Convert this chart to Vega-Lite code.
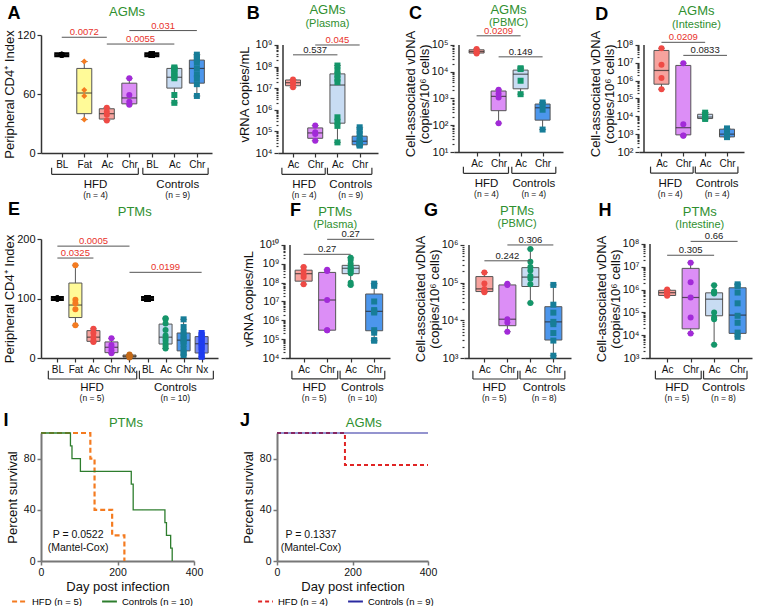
{
"$schema": "https://vega.github.io/schema/vega-lite/v6.json",
"background": "white",
"padding": {"left": 3, "top": 3, "right": 3, "bottom": 0},
"config": {"font": "Liberation Sans", "view": {"stroke": null},
 "axis": {"grid": false, "domainColor": "#333", "domainWidth": 1.5, "tickColor": "#333", "tickWidth": 1.2, "tickSize": 4, "labelFontSize": 10, "labelColor": "#111", "titleFontSize": 13, "titleFontWeight": "normal", "titleColor": "#111", "labelPadding": 2, "titlePadding": 4, "labelOverlap": false},
 "axisX": {"labelOverlap": false, "labelFlush": false},
 "axisY": {"labelFontSize": 11, "labelOverlap": false}},
"datasets": {
"pts": [
{"p":"A","x":0,"g":"BL","v":100},{"p":"A","x":0,"g":"BL","v":100},{"p":"A","x":0,"g":"BL","v":100},{"p":"A","x":0,"g":"BL","v":100},
{"p":"A","x":1,"g":"Fat","v":93},{"p":"A","x":1,"g":"Fat","v":64},{"p":"A","x":1,"g":"Fat","v":58},{"p":"A","x":1,"g":"Fat","v":34},
{"p":"A","x":2,"g":"HAc","v":46},{"p":"A","x":2,"g":"HAc","v":42},{"p":"A","x":2,"g":"HAc","v":39},{"p":"A","x":2,"g":"HAc","v":33},
{"p":"A","x":3,"g":"HChr","v":76},{"p":"A","x":3,"g":"HChr","v":59},{"p":"A","x":3,"g":"HChr","v":52},{"p":"A","x":3,"g":"HChr","v":49},
{"p":"A","x":4,"g":"CBL","v":100},{"p":"A","x":4,"g":"CBL","v":100},{"p":"A","x":4,"g":"CBL","v":100},{"p":"A","x":4,"g":"CBL","v":100},{"p":"A","x":4,"g":"CBL","v":100},{"p":"A","x":4,"g":"CBL","v":100},{"p":"A","x":4,"g":"CBL","v":100},{"p":"A","x":4,"g":"CBL","v":100},{"p":"A","x":4,"g":"CBL","v":100},
{"p":"A","x":5,"g":"CAc","v":87},{"p":"A","x":5,"g":"CAc","v":86},{"p":"A","x":5,"g":"CAc","v":85},{"p":"A","x":5,"g":"CAc","v":82},{"p":"A","x":5,"g":"CAc","v":80},{"p":"A","x":5,"g":"CAc","v":78},{"p":"A","x":5,"g":"CAc","v":76},{"p":"A","x":5,"g":"CAc","v":59},{"p":"A","x":5,"g":"CAc","v":51},
{"p":"A","x":6,"g":"CChr","v":100},{"p":"A","x":6,"g":"CChr","v":97},{"p":"A","x":6,"g":"CChr","v":95},{"p":"A","x":6,"g":"CChr","v":92},{"p":"A","x":6,"g":"CChr","v":86},{"p":"A","x":6,"g":"CChr","v":80},{"p":"A","x":6,"g":"CChr","v":76},{"p":"A","x":6,"g":"CChr","v":70},{"p":"A","x":6,"g":"CChr","v":58},
{"p":"B","x":0,"g":"HAc","v":2.5e7},{"p":"B","x":0,"g":"HAc","v":2.0e7},{"p":"B","x":0,"g":"HAc","v":1.6e7},{"p":"B","x":0,"g":"HAc","v":1.1e7},
{"p":"B","x":1,"g":"HChr","v":1.86e5},{"p":"B","x":1,"g":"HChr","v":9.1e4},{"p":"B","x":1,"g":"HChr","v":7.6e4},{"p":"B","x":1,"g":"HChr","v":3.7e4},
{"p":"B","x":2,"g":"CAc","v":1.12e8},{"p":"B","x":2,"g":"CAc","v":6.6e7},{"p":"B","x":2,"g":"CAc","v":4.2e7},{"p":"B","x":2,"g":"CAc","v":2.8e7},{"p":"B","x":2,"g":"CAc","v":1.9e7},{"p":"B","x":2,"g":"CAc","v":4.5e5},{"p":"B","x":2,"g":"CAc","v":2.8e5},{"p":"B","x":2,"g":"CAc","v":1.8e5},{"p":"B","x":2,"g":"CAc","v":3.1e4},
{"p":"B","x":3,"g":"CChr","v":1.55e5},{"p":"B","x":3,"g":"CChr","v":1.07e5},{"p":"B","x":3,"g":"CChr","v":7.6e4},{"p":"B","x":3,"g":"CChr","v":5e4},{"p":"B","x":3,"g":"CChr","v":3.5e4},{"p":"B","x":3,"g":"CChr","v":2.8e4},{"p":"B","x":3,"g":"CChr","v":2.6e4},{"p":"B","x":3,"g":"CChr","v":2.4e4},{"p":"B","x":3,"g":"CChr","v":2.2e4},
{"p":"C","x":0,"g":"HAc","v":7.1e4},{"p":"C","x":0,"g":"HAc","v":6e4},{"p":"C","x":0,"g":"HAc","v":5.2e4},{"p":"C","x":0,"g":"HAc","v":4.8e4},
{"p":"C","x":1,"g":"HChr","v":2100},{"p":"C","x":1,"g":"HChr","v":1500},{"p":"C","x":1,"g":"HChr","v":1100},{"p":"C","x":1,"g":"HChr","v":120},
{"p":"C","x":2,"g":"CAc","v":1.35e4},{"p":"C","x":2,"g":"CAc","v":1.26e4},{"p":"C","x":2,"g":"CAc","v":4600},{"p":"C","x":2,"g":"CAc","v":1450},
{"p":"C","x":3,"g":"CChr","v":710},{"p":"C","x":3,"g":"CChr","v":590},{"p":"C","x":3,"g":"CChr","v":380},{"p":"C","x":3,"g":"CChr","v":69},
{"p":"D","x":0,"g":"HAc","v":6.5e7},{"p":"D","x":0,"g":"HAc","v":7.8e6},{"p":"D","x":0,"g":"HAc","v":1.4e6},{"p":"D","x":0,"g":"HAc","v":3.3e5},
{"p":"D","x":1,"g":"HChr","v":9.5e6},{"p":"D","x":1,"g":"HChr","v":3600},{"p":"D","x":1,"g":"HChr","v":850},{"p":"D","x":1,"g":"HChr","v":810},
{"p":"D","x":2,"g":"CAc","v":1.6e4},{"p":"D","x":2,"g":"CAc","v":1.17e4},{"p":"D","x":2,"g":"CAc","v":8500},{"p":"D","x":2,"g":"CAc","v":7100},
{"p":"D","x":3,"g":"CChr","v":2100},{"p":"D","x":3,"g":"CChr","v":1300},{"p":"D","x":3,"g":"CChr","v":910},{"p":"D","x":3,"g":"CChr","v":680},
{"p":"E","x":0,"g":"BL","v":100},{"p":"E","x":0,"g":"BL","v":100},{"p":"E","x":0,"g":"BL","v":100},{"p":"E","x":0,"g":"BL","v":100},{"p":"E","x":0,"g":"BL","v":100},
{"p":"E","x":1,"g":"Fat","v":156},{"p":"E","x":1,"g":"Fat","v":98},{"p":"E","x":1,"g":"Fat","v":92},{"p":"E","x":1,"g":"Fat","v":82},{"p":"E","x":1,"g":"Fat","v":55},
{"p":"E","x":2,"g":"HAc","v":49},{"p":"E","x":2,"g":"HAc","v":42},{"p":"E","x":2,"g":"HAc","v":35},{"p":"E","x":2,"g":"HAc","v":29},{"p":"E","x":2,"g":"HAc","v":27},
{"p":"E","x":3,"g":"HChr","v":33},{"p":"E","x":3,"g":"HChr","v":22},{"p":"E","x":3,"g":"HChr","v":18},{"p":"E","x":3,"g":"HChr","v":13},{"p":"E","x":3,"g":"HChr","v":8},
{"p":"E","x":4,"g":"HNx","v":6},{"p":"E","x":4,"g":"HNx","v":4},{"p":"E","x":4,"g":"HNx","v":3},{"p":"E","x":4,"g":"HNx","v":2},{"p":"E","x":4,"g":"HNx","v":1},
{"p":"E","x":5,"g":"CBL","v":100},{"p":"E","x":5,"g":"CBL","v":100},{"p":"E","x":5,"g":"CBL","v":100},{"p":"E","x":5,"g":"CBL","v":100},{"p":"E","x":5,"g":"CBL","v":100},{"p":"E","x":5,"g":"CBL","v":100},{"p":"E","x":5,"g":"CBL","v":100},{"p":"E","x":5,"g":"CBL","v":100},{"p":"E","x":5,"g":"CBL","v":100},{"p":"E","x":5,"g":"CBL","v":100},
{"p":"E","x":6,"g":"CAc","v":67},{"p":"E","x":6,"g":"CAc","v":65},{"p":"E","x":6,"g":"CAc","v":58},{"p":"E","x":6,"g":"CAc","v":47},{"p":"E","x":6,"g":"CAc","v":38},{"p":"E","x":6,"g":"CAc","v":33},{"p":"E","x":6,"g":"CAc","v":29},{"p":"E","x":6,"g":"CAc","v":24},{"p":"E","x":6,"g":"CAc","v":20},{"p":"E","x":6,"g":"CAc","v":16},
{"p":"E","x":7,"g":"CChr","v":65},{"p":"E","x":7,"g":"CChr","v":52},{"p":"E","x":7,"g":"CChr","v":43},{"p":"E","x":7,"g":"CChr","v":38},{"p":"E","x":7,"g":"CChr","v":32},{"p":"E","x":7,"g":"CChr","v":28},{"p":"E","x":7,"g":"CChr","v":24},{"p":"E","x":7,"g":"CChr","v":15},{"p":"E","x":7,"g":"CChr","v":9},{"p":"E","x":7,"g":"CChr","v":5},
{"p":"E","x":8,"g":"CNx","v":42},{"p":"E","x":8,"g":"CNx","v":38},{"p":"E","x":8,"g":"CNx","v":35},{"p":"E","x":8,"g":"CNx","v":31},{"p":"E","x":8,"g":"CNx","v":26},{"p":"E","x":8,"g":"CNx","v":22},{"p":"E","x":8,"g":"CNx","v":18},{"p":"E","x":8,"g":"CNx","v":12},{"p":"E","x":8,"g":"CNx","v":5},{"p":"E","x":8,"g":"CNx","v":2},
{"p":"F","x":0,"g":"HAc","v":6.8e8},{"p":"F","x":0,"g":"HAc","v":4.5e8},{"p":"F","x":0,"g":"HAc","v":2.8e8},{"p":"F","x":0,"g":"HAc","v":2e8},{"p":"F","x":0,"g":"HAc","v":8.3e7},
{"p":"F","x":1,"g":"HChr","v":4.8e8},{"p":"F","x":1,"g":"HChr","v":4.2e8},{"p":"F","x":1,"g":"HChr","v":1.2e7},{"p":"F","x":1,"g":"HChr","v":3e5},{"p":"F","x":1,"g":"HChr","v":3e5},
{"p":"F","x":2,"g":"CAc","v":2.1e9},{"p":"F","x":2,"g":"CAc","v":1.6e9},{"p":"F","x":2,"g":"CAc","v":1e9},{"p":"F","x":2,"g":"CAc","v":7.1e8},{"p":"F","x":2,"g":"CAc","v":6e8},{"p":"F","x":2,"g":"CAc","v":5e8},{"p":"F","x":2,"g":"CAc","v":4e8},{"p":"F","x":2,"g":"CAc","v":3.2e8},{"p":"F","x":2,"g":"CAc","v":1e8},{"p":"F","x":2,"g":"CAc","v":7.4e7},
{"p":"F","x":3,"g":"CChr","v":8.9e7},{"p":"F","x":3,"g":"CChr","v":6.8e7},{"p":"F","x":3,"g":"CChr","v":1e7},{"p":"F","x":3,"g":"CChr","v":3.5e6},{"p":"F","x":3,"g":"CChr","v":3e6},{"p":"F","x":3,"g":"CChr","v":2.6e6},{"p":"F","x":3,"g":"CChr","v":3e5},{"p":"F","x":3,"g":"CChr","v":2.2e5},{"p":"F","x":3,"g":"CChr","v":8.9e4},{"p":"F","x":3,"g":"CChr","v":8.3e4},
{"p":"G","x":0,"g":"HAc","v":1.86e5},{"p":"G","x":0,"g":"HAc","v":9.5e4},{"p":"G","x":0,"g":"HAc","v":6.8e4},{"p":"G","x":0,"g":"HAc","v":6e4},{"p":"G","x":0,"g":"HAc","v":5.6e4},
{"p":"G","x":1,"g":"HChr","v":9.3e4},{"p":"G","x":1,"g":"HChr","v":8.7e4},{"p":"G","x":1,"g":"HChr","v":1.07e4},{"p":"G","x":1,"g":"HChr","v":8700},{"p":"G","x":1,"g":"HChr","v":5000},
{"p":"G","x":2,"g":"CAc","v":7.8e5},{"p":"G","x":2,"g":"CAc","v":3.6e5},{"p":"G","x":2,"g":"CAc","v":2.6e5},{"p":"G","x":2,"g":"CAc","v":2.1e5},{"p":"G","x":2,"g":"CAc","v":1.5e5},{"p":"G","x":2,"g":"CAc","v":1.26e5},{"p":"G","x":2,"g":"CAc","v":9.1e4},{"p":"G","x":2,"g":"CAc","v":2.9e4},
{"p":"G","x":3,"g":"CChr","v":8.7e4},{"p":"G","x":3,"g":"CChr","v":2.6e4},{"p":"G","x":3,"g":"CChr","v":1.6e4},{"p":"G","x":3,"g":"CChr","v":9100},{"p":"G","x":3,"g":"CChr","v":7900},{"p":"G","x":3,"g":"CChr","v":4600},{"p":"G","x":3,"g":"CChr","v":2900},{"p":"G","x":3,"g":"CChr","v":1150},
{"p":"H","x":0,"g":"HAc","v":1e6},{"p":"H","x":0,"g":"HAc","v":8.9e5},{"p":"H","x":0,"g":"HAc","v":7.6e5},{"p":"H","x":0,"g":"HAc","v":6.3e5},{"p":"H","x":0,"g":"HAc","v":5.4e5},
{"p":"H","x":1,"g":"HChr","v":1.5e7},{"p":"H","x":1,"g":"HChr","v":2.1e6},{"p":"H","x":1,"g":"HChr","v":4.5e5},{"p":"H","x":1,"g":"HChr","v":5.9e4},{"p":"H","x":1,"g":"HChr","v":1.2e4},
{"p":"H","x":2,"g":"CAc","v":1.55e6},{"p":"H","x":2,"g":"CAc","v":8.5e5},{"p":"H","x":2,"g":"CAc","v":7.4e5},{"p":"H","x":2,"g":"CAc","v":6.8e5},{"p":"H","x":2,"g":"CAc","v":9.8e4},{"p":"H","x":2,"g":"CAc","v":5.9e4},{"p":"H","x":2,"g":"CAc","v":5e4},{"p":"H","x":2,"g":"CAc","v":3800},
{"p":"H","x":3,"g":"CChr","v":1.7e6},{"p":"H","x":3,"g":"CChr","v":1.45e6},{"p":"H","x":3,"g":"CChr","v":7.4e5},{"p":"H","x":3,"g":"CChr","v":2.5e5},{"p":"H","x":3,"g":"CChr","v":7.1e4},{"p":"H","x":3,"g":"CChr","v":3.5e4},{"p":"H","x":3,"g":"CChr","v":1.3e4},{"p":"H","x":3,"g":"CChr","v":8500}
],
"box": [
{"p":"A","x":0,"g":"BL","lo":100,"q1":100,"med":100,"q3":100,"hi":100},
{"p":"A","x":1,"g":"Fat","lo":34,"q1":40,"med":61,"q3":86,"hi":93},
{"p":"A","x":2,"g":"HAc","lo":33,"q1":34.5,"med":40,"q3":45,"hi":46},
{"p":"A","x":3,"g":"HChr","lo":49,"q1":50,"med":56,"q3":71,"hi":76},
{"p":"A","x":4,"g":"CBL","lo":100,"q1":100,"med":100,"q3":100,"hi":100},
{"p":"A","x":5,"g":"CAc","lo":51,"q1":66,"med":77,"q3":86,"hi":87},
{"p":"A","x":6,"g":"CChr","lo":58,"q1":71,"med":86,"q3":94.5,"hi":100},
{"p":"B","x":0,"g":"HAc","lo":1.1e7,"q1":1.3e7,"med":1.8e7,"q3":2.4e7,"hi":2.5e7},
{"p":"B","x":1,"g":"HChr","lo":3.7e4,"q1":4.8e4,"med":8.5e4,"q3":1.45e5,"hi":1.86e5},
{"p":"B","x":2,"g":"CAc","lo":3.1e4,"q1":2.4e5,"med":1.4e7,"q3":4.6e7,"hi":1.12e8},
{"p":"B","x":3,"g":"CChr","lo":2.2e4,"q1":2.4e4,"med":3.5e4,"q3":6e4,"hi":1.55e5},
{"p":"C","x":0,"g":"HAc","lo":4.8e4,"q1":5e4,"med":5.7e4,"q3":6.6e4,"hi":7.1e4},
{"p":"C","x":1,"g":"HChr","lo":120,"q1":350,"med":1200,"q3":1900,"hi":2100},
{"p":"C","x":2,"g":"CAc","lo":1450,"q1":2300,"med":8100,"q3":1.15e4,"hi":1.35e4},
{"p":"C","x":3,"g":"CChr","lo":69,"q1":155,"med":450,"q3":620,"hi":710},
{"p":"D","x":0,"g":"HAc","lo":3.3e5,"q1":6.3e5,"med":3.7e6,"q3":4.9e7,"hi":6.5e7},
{"p":"D","x":1,"g":"HChr","lo":810,"q1":910,"med":2300,"q3":7.1e6,"hi":9.5e6},
{"p":"D","x":2,"g":"CAc","lo":7100,"q1":7500,"med":9100,"q3":1.3e4,"hi":1.6e4},
{"p":"D","x":3,"g":"CChr","lo":680,"q1":700,"med":1000,"q3":1900,"hi":2100},
{"p":"E","x":0,"g":"BL","lo":100,"q1":100,"med":100,"q3":100,"hi":100},
{"p":"E","x":1,"g":"Fat","lo":55,"q1":68,"med":89,"q3":126,"hi":156},
{"p":"E","x":2,"g":"HAc","lo":27,"q1":28,"med":35,"q3":46,"hi":49},
{"p":"E","x":3,"g":"HChr","lo":8,"q1":9,"med":18,"q3":27,"hi":33},
{"p":"E","x":4,"g":"HNx","lo":1,"q1":1.5,"med":3,"q3":5,"hi":6},
{"p":"E","x":5,"g":"CBL","lo":100,"q1":100,"med":100,"q3":100,"hi":100},
{"p":"E","x":6,"g":"CAc","lo":16,"q1":23.5,"med":35,"q3":57,"hi":67},
{"p":"E","x":7,"g":"CChr","lo":5,"q1":12,"med":30,"q3":42,"hi":65},
{"p":"E","x":8,"g":"CNx","lo":2,"q1":8.4,"med":24,"q3":36,"hi":42},
{"p":"F","x":0,"g":"HAc","lo":8.3e7,"q1":1.2e8,"med":3e8,"q3":4.6e8,"hi":6.8e8},
{"p":"F","x":1,"g":"HChr","lo":3e5,"q1":3e5,"med":1.2e7,"q3":3.5e8,"hi":4.8e8},
{"p":"F","x":2,"g":"CAc","lo":7.4e7,"q1":3e8,"med":5.8e8,"q3":8.3e8,"hi":2.1e9},
{"p":"F","x":3,"g":"CChr","lo":8.3e4,"q1":2.8e5,"med":3e6,"q3":2.5e7,"hi":8.9e7},
{"p":"G","x":0,"g":"HAc","lo":5.6e4,"q1":5.8e4,"med":6.8e4,"q3":1.45e5,"hi":1.86e5},
{"p":"G","x":1,"g":"HChr","lo":5000,"q1":7200,"med":1.07e4,"q3":8.7e4,"hi":9.3e4},
{"p":"G","x":2,"g":"CAc","lo":2.9e4,"q1":7.9e4,"med":1.4e5,"q3":2.5e5,"hi":7.8e5},
{"p":"G","x":3,"g":"CChr","lo":1150,"q1":3000,"med":9100,"q3":2.3e4,"hi":8.7e4},
{"p":"H","x":0,"g":"HAc","lo":5.4e5,"q1":5.5e5,"med":7.3e5,"q3":9.3e5,"hi":1e6},
{"p":"H","x":1,"g":"HChr","lo":1.2e4,"q1":1.9e4,"med":4.5e5,"q3":8.5e6,"hi":1.5e7},
{"p":"H","x":2,"g":"CAc","lo":3800,"q1":7.1e4,"med":3.8e5,"q3":7.2e5,"hi":1.55e6},
{"p":"H","x":3,"g":"CChr","lo":8500,"q1":1.2e4,"med":7.6e4,"q3":1.2e6,"hi":1.7e6}
],
"sig": [
{"p":"A","x1":0,"x2":2,"xm":1,"y":117.7,"t":"0.0072","s":1},
{"p":"A","x1":2,"x2":5,"xm":3.5,"y":110.8,"t":"0.0055","s":1},
{"p":"A","x1":3,"x2":6,"xm":4.5,"y":124.5,"t":"0.031","s":1},
{"p":"B","x1":0,"x2":2,"xm":1,"y":3.5e8,"t":"0.537","s":0},
{"p":"B","x1":1,"x2":3,"xm":2,"y":1e9,"t":"0.045","s":1},
{"p":"C","x1":0,"x2":2,"xm":1,"y":2.2e5,"t":"0.0209","s":1},
{"p":"C","x1":1,"x2":3,"xm":2,"y":3.6e4,"t":"0.149","s":0},
{"p":"D","x1":0,"x2":2,"xm":1,"y":1.4e8,"t":"0.0209","s":1},
{"p":"D","x1":1,"x2":3,"xm":2,"y":2.6e7,"t":"0.0833","s":0},
{"p":"E","x1":0,"x2":4,"xm":2,"y":188,"t":"0.0005","s":1},
{"p":"E","x1":0,"x2":2,"xm":1,"y":168,"t":"0.0325","s":1},
{"p":"E","x1":4,"x2":8,"xm":6,"y":144,"t":"0.0199","s":1},
{"p":"F","x1":0,"x2":2,"xm":1,"y":3.2e9,"t":"0.27","s":0},
{"p":"F","x1":1,"x2":3,"xm":2,"y":2e10,"t":"0.27","s":0},
{"p":"G","x1":0,"x2":2,"xm":1,"y":3.8e5,"t":"0.242","s":0},
{"p":"G","x1":1,"x2":3,"xm":2,"y":1e6,"t":"0.306","s":0},
{"p":"H","x1":0,"x2":2,"xm":1,"y":3.2e7,"t":"0.305","s":0},
{"p":"H","x1":1,"x2":3,"xm":2,"y":1.3e8,"t":"0.66","s":0}
],
"brk": [
{"p":"A","x1":-0.45,"x2":3.4,"yt":-15,"yl":-21.7},{"p":"A","x1":3.6,"x2":6.5,"yt":-15,"yl":-21.7},
{"p":"B","x1":-0.5,"x2":1.45,"yt":2089,"yl":1033},{"p":"B","x1":1.55,"x2":3.55,"yt":2089,"yl":1033},
{"p":"C","x1":-0.6,"x2":1.45,"yt":2.82,"yl":1.6},{"p":"C","x1":1.6,"x2":3.6,"yt":2.82,"yl":1.6},
{"p":"D","x1":-0.5,"x2":1.45,"yt":15.2,"yl":6.56},{"p":"D","x1":1.55,"x2":3.5,"yt":15.2,"yl":6.56},
{"p":"E","x1":-0.5,"x2":4.4,"yt":-21.3,"yl":-35.3},{"p":"E","x1":4.55,"x2":8.65,"yt":-21.3,"yl":-35.3},
{"p":"F","x1":-0.5,"x2":1.45,"yt":2128,"yl":774},{"p":"F","x1":1.55,"x2":3.45,"yt":2128,"yl":774},
{"p":"G","x1":-0.5,"x2":1.45,"yt":460,"yl":277},{"p":"G","x1":1.55,"x2":3.5,"yt":460,"yl":277},
{"p":"H","x1":-0.5,"x2":1.45,"yt":279,"yl":121},{"p":"H","x1":1.55,"x2":3.4,"yt":279,"yl":121}
],
"ann": [
{"p":"A","x":-2.12,"y":141.4,"t":"A","k":"L"},{"p":"A","x":2.9,"y":143,"t":"AGMs","k":"T"},
{"p":"A","x":1.5,"y":-32.6,"t":"HFD","k":"G"},{"p":"A","x":1.5,"y":-42.8,"t":"(n = 4)","k":"N"},{"p":"A","x":5.15,"y":-32.6,"t":"Controls","k":"G"},{"p":"A","x":5.15,"y":-42.8,"t":"(n = 9)","k":"N"},
{"p":"B","x":-1.79,"y":2.7e10,"t":"B","k":"L"},{"p":"B","x":1.55,"y":4.2e10,"t":"AGMs","k":"T"},{"p":"B","x":1.55,"y":9.3e9,"t":"(Plasma)","k":"S"},
{"p":"B","x":0.5,"y":331,"t":"HFD","k":"G"},{"p":"B","x":0.5,"y":114,"t":"(n = 4)","k":"N"},{"p":"B","x":2.6,"y":331,"t":"Controls","k":"G"},{"p":"B","x":2.6,"y":114,"t":"(n = 9)","k":"N"},
{"p":"C","x":-2.78,"y":1.4e6,"t":"C","k":"L"},{"p":"C","x":1.45,"y":2e6,"t":"AGMs","k":"T"},{"p":"C","x":1.45,"y":6.6e5,"t":"(PBMC)","k":"S"},
{"p":"C","x":0.45,"y":0.64,"t":"HFD","k":"G"},{"p":"C","x":0.45,"y":0.271,"t":"(n = 4)","k":"N"},{"p":"C","x":2.6,"y":0.64,"t":"Controls","k":"G"},{"p":"C","x":2.6,"y":0.271,"t":"(n = 4)","k":"N"},
{"p":"D","x":-2.74,"y":4.7e9,"t":"D","k":"L"},{"p":"D","x":1.6,"y":7.8e9,"t":"AGMs","k":"T"},{"p":"D","x":1.6,"y":1.3e9,"t":"(Intestine)","k":"S"},
{"p":"D","x":0.4,"y":1.67,"t":"HFD","k":"G"},{"p":"D","x":0.4,"y":0.464,"t":"(n = 4)","k":"N"},{"p":"D","x":2.55,"y":1.67,"t":"Controls","k":"G"},{"p":"D","x":2.55,"y":0.464,"t":"(n = 4)","k":"N"},
{"p":"E","x":-2.41,"y":249,"t":"E","k":"L"},{"p":"E","x":4.29,"y":246,"t":"PTMs","k":"T"},
{"p":"E","x":1.92,"y":-51.1,"t":"HFD","k":"G"},{"p":"E","x":1.92,"y":-67.2,"t":"(n = 5)","k":"N"},{"p":"E","x":6.54,"y":-51.1,"t":"Controls","k":"G"},{"p":"E","x":6.54,"y":-67.2,"t":"(n = 10)","k":"N"},
{"p":"F","x":-0.35,"y":6.2e11,"t":"F","k":"L"},{"p":"F","x":1.34,"y":5.8e11,"t":"PTMs","k":"T"},{"p":"F","x":1.34,"y":1.2e11,"t":"(Plasma)","k":"S"},
{"p":"F","x":0.45,"y":247,"t":"HFD","k":"G"},{"p":"F","x":0.45,"y":76.6,"t":"(n = 5)","k":"N"},{"p":"F","x":2.5,"y":247,"t":"Controls","k":"G"},{"p":"F","x":2.5,"y":76.6,"t":"(n = 10)","k":"N"},
{"p":"G","x":-2.32,"y":8.1e6,"t":"G","k":"L"},{"p":"G","x":1.42,"y":7.8e6,"t":"PTMs","k":"T"},{"p":"G","x":1.42,"y":3.5e6,"t":"(PBMC)","k":"S"},
{"p":"G","x":0.43,"y":156,"t":"HFD","k":"G"},{"p":"G","x":0.43,"y":86.9,"t":"(n = 5)","k":"N"},{"p":"G","x":2.6,"y":156,"t":"Controls","k":"G"},{"p":"G","x":2.6,"y":86.9,"t":"(n = 8)","k":"N"},
{"p":"H","x":-2.65,"y":2.7e9,"t":"H","k":"L"},{"p":"H","x":1.39,"y":2.5e9,"t":"PTMs","k":"T"},{"p":"H","x":1.39,"y":7.1e8,"t":"(Intestine)","k":"S"},
{"p":"H","x":0.42,"y":47,"t":"HFD","k":"G"},{"p":"H","x":0.42,"y":17.9,"t":"(n = 5)","k":"N"},{"p":"H","x":2.4,"y":47,"t":"Controls","k":"G"},{"p":"H","x":2.4,"y":17.9,"t":"(n = 8)","k":"N"},
{"p":"I","x":-91.5,"y":109.4,"t":"I","k":"L"},{"p":"I","x":222,"y":107.8,"t":"PTMs","k":"T"},
{"p":"I","x":97,"y":20,"t":"P = 0.0522","k":"P"},{"p":"I","x":97,"y":10,"t":"(Mantel-Cox)","k":"P"},
{"p":"J","x":-85,"y":109.4,"t":"J","k":"L"},{"p":"J","x":230,"y":107.8,"t":"AGMs","k":"T"},
{"p":"J","x":90,"y":20,"t":"P = 0.1337","k":"P"},{"p":"J","x":90,"y":10,"t":"(Mantel-Cox)","k":"P"}
],
"surv": [
{"p":"I","d":0,"s":100,"grp":"HFD (n = 5)"},{"p":"I","d":129,"s":80,"grp":"HFD (n = 5)"},{"p":"I","d":140,"s":40,"grp":"HFD (n = 5)"},{"p":"I","d":186,"s":20,"grp":"HFD (n = 5)"},{"p":"I","d":218,"s":0,"grp":"HFD (n = 5)"},
{"p":"I","d":0,"s":100,"grp":"Controls (n = 10)"},{"p":"I","d":77,"s":90,"grp":"Controls (n = 10)"},{"p":"I","d":81,"s":80,"grp":"Controls (n = 10)"},{"p":"I","d":103,"s":70,"grp":"Controls (n = 10)"},{"p":"I","d":236,"s":60,"grp":"Controls (n = 10)"},{"p":"I","d":241,"s":40,"grp":"Controls (n = 10)"},{"p":"I","d":324,"s":30,"grp":"Controls (n = 10)"},{"p":"I","d":328,"s":20,"grp":"Controls (n = 10)"},{"p":"I","d":339,"s":10,"grp":"Controls (n = 10)"},{"p":"I","d":343,"s":0,"grp":"Controls (n = 10)"},
{"p":"J","d":0,"s":100,"grp":"HFD (n = 4)"},{"p":"J","d":180,"s":75,"grp":"HFD (n = 4)"},{"p":"J","d":400,"s":75,"grp":"HFD (n = 4)"},
{"p":"J","d":0,"s":100,"grp":"Controls (n = 9)"},{"p":"J","d":400,"s":100,"grp":"Controls (n = 9)"}
]
},
"resolve": {"scale": {"color": "independent", "fill": "independent", "shape": "independent", "strokeDash": "independent"}},
"spacing": 8,
"vconcat": [
{"spacing": 0, "resolve": {"scale": {"color": "independent", "fill": "independent", "shape": "independent"}},
 "vconcat": [
 {"spacing": 26, "hconcat": [
  {"width": 171, "height": 118, "layer": [
   {"data":{"name":"box"},"transform":[{"filter":"datum.p=='A'"}],"mark":{"type":"rule","color":"#555","strokeWidth":1},
    "encoding":{"x":{"field":"x","type":"quantitative","scale":{"domain":[-0.7,6.45],"nice":false,"zero":false},"axis":{"values":[0,1,2,3,4,5,6],"tickCount":7,"labelExpr":"['BL','Fat','Ac','Chr','BL','Ac','Chr'][datum.value]","title":null,"labelOverlap":false,"labelFlush":false}},
     "y":{"field":"lo","type":"quantitative","scale":{"domain":[0,120],"nice":false,"zero":false},"axis":{"values":[0,30,60,90,120],"title":"Peripheral CD4⁺ Index","titlePadding":0}},"y2":{"field":"hi"}}},
   {"data":{"name":"box"},"transform":[{"filter":"datum.p=='A'"},{"fold":["lo","hi"],"as":["k","cv"]}],"mark":{"type":"tick","orient":"horizontal","size":7,"thickness":1,"color":"#555"},"encoding":{"x":{"field":"x","type":"quantitative"},"y":{"field":"cv","type":"quantitative"}}},
   {"data":{"name":"box"},"transform":[{"filter":"datum.p=='A'"}],"mark":{"type":"bar","width":15},"encoding":{"x":{"field":"x","type":"quantitative"},"y":{"field":"q1","type":"quantitative"},"y2":{"field":"q3"},
     "fill":{"field":"g","type":"nominal","scale":{"domain":["BL","Fat","HAc","HChr","HNx","CBL","CAc","CChr","CNx"],"range":["#000000","#fffa98","#f7a39e","#dc8ef6","#eaa86a","#000000","#c8dcf3","#4c96ec","#7487f0"]},"legend":null},
     "stroke":{"condition":{"test":"datum.g=='BL'||datum.g=='CBL'","value":"#000"},"value":"#555"},"strokeWidth":{"condition":{"test":"datum.g=='BL'||datum.g=='CBL'","value":5},"value":1}}},
   {"data":{"name":"box"},"transform":[{"filter":"datum.p=='A'"}],"mark":{"type":"tick","orient":"horizontal","size":15,"thickness":1.2,"color":"#222"},"encoding":{"x":{"field":"x","type":"quantitative"},"y":{"field":"med","type":"quantitative"}}},
   {"data":{"name":"pts"},"transform":[{"filter":"datum.p=='A'"}],"mark":{"type":"point","filled":true,"size":36,"opacity":1},"encoding":{"x":{"field":"x","type":"quantitative"},"y":{"field":"v","type":"quantitative"},
     "color":{"field":"g","type":"nominal","scale":{"domain":["BL","Fat","HAc","HChr","HNx","CBL","CAc","CChr","CNx"],"range":["#000000","#f47b20","#ef4a45","#a22ad8","#c46a18","#000000","#14966a","#177d98","#1d3cf0"]},"legend":null},
     "shape":{"field":"g","type":"nominal","scale":{"domain":["BL","Fat","HAc","HChr","HNx","CBL","CAc","CChr","CNx"],"range":["circle","diamond","circle","circle","circle","square","square","square","square"]},"legend":null}}},
   {"data":{"name":"sig"},"transform":[{"filter":"datum.p=='A'"}],"mark":{"type":"rule","color":"#555","strokeWidth":1},"encoding":{"x":{"field":"x1","type":"quantitative"},"x2":{"field":"x2"},"y":{"field":"y","type":"quantitative"}}},
   {"data":{"name":"sig"},"transform":[{"filter":"datum.p=='A'"}],"mark":{"type":"text","fontSize":9.5,"baseline":"bottom","dy":0},"encoding":{"x":{"field":"xm","type":"quantitative"},"y":{"field":"y","type":"quantitative"},"text":{"field":"t"},"color":{"condition":{"test":"datum.s==1","value":"#e8322b"},"value":"#222"}}},
   {"data":{"name":"brk"},"transform":[{"filter":"datum.p=='A'"}],"mark":{"type":"rule","color":"#333","strokeWidth":1.2},"encoding":{"x":{"field":"x1","type":"quantitative"},"x2":{"field":"x2"},"y":{"field":"yl","type":"quantitative"}}},
   {"data":{"name":"brk"},"transform":[{"filter":"datum.p=='A'"},{"fold":["x1","x2"],"as":["k","bx"]}],"mark":{"type":"rule","color":"#333","strokeWidth":1.2},"encoding":{"x":{"field":"bx","type":"quantitative"},"y":{"field":"yl","type":"quantitative"},"y2":{"field":"yt"}}},
   {"data":{"name":"ann"},"transform":[{"filter":"datum.p=='A' && datum.k!='L'"}],"mark":{"type":"text","align":"center","baseline":"middle"},"encoding":{"x":{"field":"x","type":"quantitative"},"y":{"field":"y","type":"quantitative"},"text":{"field":"t"},
     "size":{"condition":[{"test":"datum.k=='T'","value":13},{"test":"datum.k=='S'","value":11},{"test":"datum.k=='G'","value":11.5},{"test":"datum.k=='N'","value":8.5}],"value":10.5},
     "color":{"condition":{"test":"datum.k=='T'||datum.k=='S'","value":"#2f8f2f"},"value":"#111"}}},
   {"data":{"name":"ann"},"transform":[{"filter":"datum.p=='A' && datum.k=='L'"}],"mark":{"type":"text","align":"center","baseline":"middle","fontSize":18,"fontWeight":"bold","color":"#000"},"encoding":{"x":{"field":"x","type":"quantitative"},"y":{"field":"y","type":"quantitative"},"text":{"field":"t"}}}
  ]},
  {"width": 100, "height": 118, "layer": [
   {"data":{"name":"box"},"transform":[{"filter":"datum.p=='B'"}],"mark":{"type":"rule","color":"#555","strokeWidth":1},
    "encoding":{"x":{"field":"x","type":"quantitative","scale":{"domain":[-0.45,3.6],"nice":false,"zero":false},"axis":{"values":[0,1,2,3],"tickCount":4,"labelExpr":"['Ac','Chr','Ac','Chr'][datum.value]","title":null,"labelOverlap":false,"labelFlush":false}},
     "y":{"field":"lo","type":"quantitative","scale":{"type":"log","domain":[1e4,2.9e9],"nice":false},"axis":{"domain":false,"labelOverlap":false,"values":[1e4,2e4,3e4,4e4,5e4,6e4,7e4,8e4,9e4,1e5,2e5,3e5,4e5,5e5,6e5,7e5,8e5,9e5,1e6,2e6,3e6,4e6,5e6,6e6,7e6,8e6,9e6,1e7,2e7,3e7,4e7,5e7,6e7,7e7,8e7,9e7,1e8,2e8,3e8,4e8,5e8,6e8,7e8,8e8,9e8,1e9],"labelExpr":"abs(log(datum.value)/LN10-round(log(datum.value)/LN10))<0.001 ? '10'+['⁰','¹','²','³','⁴','⁵','⁶','⁷','⁸','⁹','¹⁰'][round(log(datum.value)/LN10)] : ''","tickSize":{"condition":{"test":"abs(log(datum.value)/LN10-round(log(datum.value)/LN10))<0.001","value":4},"value":2},"title":"vRNA copies/mL"}},"y2":{"field":"hi"}}},
   {"data":{"name":"box"},"transform":[{"filter":"datum.p=='B'"},{"fold":["lo","hi"],"as":["k","cv"]}],"mark":{"type":"tick","orient":"horizontal","size":7,"thickness":1,"color":"#555"},"encoding":{"x":{"field":"x","type":"quantitative"},"y":{"field":"cv","type":"quantitative"}}},
   {"data":{"name":"box"},"transform":[{"filter":"datum.p=='B'"}],"mark":{"type":"bar","width":15},"encoding":{"x":{"field":"x","type":"quantitative"},"y":{"field":"q1","type":"quantitative"},"y2":{"field":"q3"},
     "fill":{"field":"g","type":"nominal","scale":{"domain":["BL","Fat","HAc","HChr","HNx","CBL","CAc","CChr","CNx"],"range":["#000000","#fffa98","#f7a39e","#dc8ef6","#eaa86a","#000000","#c8dcf3","#4c96ec","#7487f0"]},"legend":null},
     "stroke":{"value":"#555"},"strokeWidth":{"value":1}}},
   {"data":{"name":"box"},"transform":[{"filter":"datum.p=='B'"}],"mark":{"type":"tick","orient":"horizontal","size":15,"thickness":1.2,"color":"#222"},"encoding":{"x":{"field":"x","type":"quantitative"},"y":{"field":"med","type":"quantitative"}}},
   {"data":{"name":"pts"},"transform":[{"filter":"datum.p=='B'"}],"mark":{"type":"point","filled":true,"size":36,"opacity":1},"encoding":{"x":{"field":"x","type":"quantitative"},"y":{"field":"v","type":"quantitative"},
     "color":{"field":"g","type":"nominal","scale":{"domain":["BL","Fat","HAc","HChr","HNx","CBL","CAc","CChr","CNx"],"range":["#000000","#f47b20","#ef4a45","#a22ad8","#c46a18","#000000","#14966a","#177d98","#1d3cf0"]},"legend":null},
     "shape":{"field":"g","type":"nominal","scale":{"domain":["BL","Fat","HAc","HChr","HNx","CBL","CAc","CChr","CNx"],"range":["circle","diamond","circle","circle","circle","square","square","square","square"]},"legend":null}}},
   {"data":{"name":"sig"},"transform":[{"filter":"datum.p=='B'"}],"mark":{"type":"rule","color":"#555","strokeWidth":1},"encoding":{"x":{"field":"x1","type":"quantitative"},"x2":{"field":"x2"},"y":{"field":"y","type":"quantitative"}}},
   {"data":{"name":"sig"},"transform":[{"filter":"datum.p=='B'"}],"mark":{"type":"text","fontSize":9.5,"baseline":"bottom","dy":0},"encoding":{"x":{"field":"xm","type":"quantitative"},"y":{"field":"y","type":"quantitative"},"text":{"field":"t"},"color":{"condition":{"test":"datum.s==1","value":"#e8322b"},"value":"#222"}}},
   {"data":{"name":"brk"},"transform":[{"filter":"datum.p=='B'"}],"mark":{"type":"rule","color":"#333","strokeWidth":1.2},"encoding":{"x":{"field":"x1","type":"quantitative"},"x2":{"field":"x2"},"y":{"field":"yl","type":"quantitative"}}},
   {"data":{"name":"brk"},"transform":[{"filter":"datum.p=='B'"},{"fold":["x1","x2"],"as":["k","bx"]}],"mark":{"type":"rule","color":"#333","strokeWidth":1.2},"encoding":{"x":{"field":"bx","type":"quantitative"},"y":{"field":"yl","type":"quantitative"},"y2":{"field":"yt"}}},
   {"data":{"name":"ann"},"transform":[{"filter":"datum.p=='B' && datum.k!='L'"}],"mark":{"type":"text","align":"center","baseline":"middle"},"encoding":{"x":{"field":"x","type":"quantitative"},"y":{"field":"y","type":"quantitative"},"text":{"field":"t"},
     "size":{"condition":[{"test":"datum.k=='T'","value":13},{"test":"datum.k=='S'","value":11},{"test":"datum.k=='G'","value":11.5},{"test":"datum.k=='N'","value":8.5}],"value":10.5},
     "color":{"condition":{"test":"datum.k=='T'||datum.k=='S'","value":"#2f8f2f"},"value":"#111"}}},
   {"data":{"name":"ann"},"transform":[{"filter":"datum.p=='B' && datum.k=='L'"}],"mark":{"type":"text","align":"center","baseline":"middle","fontSize":18,"fontWeight":"bold","color":"#000"},"encoding":{"x":{"field":"x","type":"quantitative"},"y":{"field":"y","type":"quantitative"},"text":{"field":"t"}}},
   {"data":{"values":[{}]},"mark":{"type":"rule","color":"#333","strokeWidth":1.5},"encoding":{"x":{"datum":-0.45},"y":{"datum":10000},"y2":{"datum":1e9}}}
  ]},
  {"width": 109, "height": 117, "layer": [
   {"data":{"name":"box"},"transform":[{"filter":"datum.p=='C'"}],"mark":{"type":"rule","color":"#555","strokeWidth":1},
    "encoding":{"x":{"field":"x","type":"quantitative","scale":{"domain":[-0.8,3.7],"nice":false,"zero":false},"axis":{"values":[0,1,2,3],"tickCount":4,"labelExpr":"['Ac','Chr','Ac','Chr'][datum.value]","title":null,"labelOverlap":false,"labelFlush":false}},
     "y":{"field":"lo","type":"quantitative","scale":{"type":"log","domain":[10,2.36e5],"nice":false},"axis":{"domain":false,"labelOverlap":false,"values":[10,20,30,40,50,60,70,80,90,100,200,300,400,500,600,700,800,900,1000,2000,3000,4000,5000,6000,7000,8000,9000,1e4,2e4,3e4,4e4,5e4,6e4,7e4,8e4,9e4,1e5],"labelExpr":"abs(log(datum.value)/LN10-round(log(datum.value)/LN10))<0.001 ? '10'+['⁰','¹','²','³','⁴','⁵','⁶','⁷','⁸','⁹','¹⁰'][round(log(datum.value)/LN10)] : ''","tickSize":{"condition":{"test":"abs(log(datum.value)/LN10-round(log(datum.value)/LN10))<0.001","value":4},"value":2},"title":["Cell-associated vDNA","(copies/10⁶ cells)"],"titlePadding":0,"titleLineHeight":14}},"y2":{"field":"hi"}}},
   {"data":{"name":"box"},"transform":[{"filter":"datum.p=='C'"},{"fold":["lo","hi"],"as":["k","cv"]}],"mark":{"type":"tick","orient":"horizontal","size":7,"thickness":1,"color":"#555"},"encoding":{"x":{"field":"x","type":"quantitative"},"y":{"field":"cv","type":"quantitative"}}},
   {"data":{"name":"box"},"transform":[{"filter":"datum.p=='C'"}],"mark":{"type":"bar","width":15},"encoding":{"x":{"field":"x","type":"quantitative"},"y":{"field":"q1","type":"quantitative"},"y2":{"field":"q3"},
     "fill":{"field":"g","type":"nominal","scale":{"domain":["BL","Fat","HAc","HChr","HNx","CBL","CAc","CChr","CNx"],"range":["#000000","#fffa98","#f7a39e","#dc8ef6","#eaa86a","#000000","#c8dcf3","#4c96ec","#7487f0"]},"legend":null},
     "stroke":{"value":"#555"},"strokeWidth":{"value":1}}},
   {"data":{"name":"box"},"transform":[{"filter":"datum.p=='C'"}],"mark":{"type":"tick","orient":"horizontal","size":15,"thickness":1.2,"color":"#222"},"encoding":{"x":{"field":"x","type":"quantitative"},"y":{"field":"med","type":"quantitative"}}},
   {"data":{"name":"pts"},"transform":[{"filter":"datum.p=='C'"}],"mark":{"type":"point","filled":true,"size":36,"opacity":1},"encoding":{"x":{"field":"x","type":"quantitative"},"y":{"field":"v","type":"quantitative"},
     "color":{"field":"g","type":"nominal","scale":{"domain":["BL","Fat","HAc","HChr","HNx","CBL","CAc","CChr","CNx"],"range":["#000000","#f47b20","#ef4a45","#a22ad8","#c46a18","#000000","#14966a","#177d98","#1d3cf0"]},"legend":null},
     "shape":{"field":"g","type":"nominal","scale":{"domain":["BL","Fat","HAc","HChr","HNx","CBL","CAc","CChr","CNx"],"range":["circle","diamond","circle","circle","circle","square","square","square","square"]},"legend":null}}},
   {"data":{"name":"sig"},"transform":[{"filter":"datum.p=='C'"}],"mark":{"type":"rule","color":"#555","strokeWidth":1},"encoding":{"x":{"field":"x1","type":"quantitative"},"x2":{"field":"x2"},"y":{"field":"y","type":"quantitative"}}},
   {"data":{"name":"sig"},"transform":[{"filter":"datum.p=='C'"}],"mark":{"type":"text","fontSize":9.5,"baseline":"bottom","dy":0},"encoding":{"x":{"field":"xm","type":"quantitative"},"y":{"field":"y","type":"quantitative"},"text":{"field":"t"},"color":{"condition":{"test":"datum.s==1","value":"#e8322b"},"value":"#222"}}},
   {"data":{"name":"brk"},"transform":[{"filter":"datum.p=='C'"}],"mark":{"type":"rule","color":"#333","strokeWidth":1.2},"encoding":{"x":{"field":"x1","type":"quantitative"},"x2":{"field":"x2"},"y":{"field":"yl","type":"quantitative"}}},
   {"data":{"name":"brk"},"transform":[{"filter":"datum.p=='C'"},{"fold":["x1","x2"],"as":["k","bx"]}],"mark":{"type":"rule","color":"#333","strokeWidth":1.2},"encoding":{"x":{"field":"bx","type":"quantitative"},"y":{"field":"yl","type":"quantitative"},"y2":{"field":"yt"}}},
   {"data":{"name":"ann"},"transform":[{"filter":"datum.p=='C' && datum.k!='L'"}],"mark":{"type":"text","align":"center","baseline":"middle"},"encoding":{"x":{"field":"x","type":"quantitative"},"y":{"field":"y","type":"quantitative"},"text":{"field":"t"},
     "size":{"condition":[{"test":"datum.k=='T'","value":13},{"test":"datum.k=='S'","value":11},{"test":"datum.k=='G'","value":11.5},{"test":"datum.k=='N'","value":8.5}],"value":10.5},
     "color":{"condition":{"test":"datum.k=='T'||datum.k=='S'","value":"#2f8f2f"},"value":"#111"}}},
   {"data":{"name":"ann"},"transform":[{"filter":"datum.p=='C' && datum.k=='L'"}],"mark":{"type":"text","align":"center","baseline":"middle","fontSize":18,"fontWeight":"bold","color":"#000"},"encoding":{"x":{"field":"x","type":"quantitative"},"y":{"field":"y","type":"quantitative"},"text":{"field":"t"}}},
   {"data":{"values":[{}]},"mark":{"type":"rule","color":"#333","strokeWidth":1.5},"encoding":{"x":{"datum":-0.8},"y":{"datum":10},"y2":{"datum":1e5}}}
  ]},
  {"width": 105, "height": 117, "layer": [
   {"data":{"name":"box"},"transform":[{"filter":"datum.p=='D'"}],"mark":{"type":"rule","color":"#555","strokeWidth":1},
    "encoding":{"x":{"field":"x","type":"quantitative","scale":{"domain":[-0.8,3.55],"nice":false,"zero":false},"axis":{"values":[0,1,2,3],"tickCount":4,"labelExpr":"['Ac','Chr','Ac','Chr'][datum.value]","title":null,"labelOverlap":false,"labelFlush":false}},
     "y":{"field":"lo","type":"quantitative","scale":{"type":"log","domain":[100,3.6e8],"nice":false},"axis":{"domain":false,"labelOverlap":false,"values":[100,200,300,400,500,600,700,800,900,1000,2000,3000,4000,5000,6000,7000,8000,9000,1e4,2e4,3e4,4e4,5e4,6e4,7e4,8e4,9e4,1e5,2e5,3e5,4e5,5e5,6e5,7e5,8e5,9e5,1e6,2e6,3e6,4e6,5e6,6e6,7e6,8e6,9e6,1e7,2e7,3e7,4e7,5e7,6e7,7e7,8e7,9e7,1e8],"labelExpr":"abs(log(datum.value)/LN10-round(log(datum.value)/LN10))<0.001 ? '10'+['⁰','¹','²','³','⁴','⁵','⁶','⁷','⁸','⁹','¹⁰'][round(log(datum.value)/LN10)] : ''","tickSize":{"condition":{"test":"abs(log(datum.value)/LN10-round(log(datum.value)/LN10))<0.001","value":4},"value":2},"title":["Cell-associated vDNA","(copies/10⁶ cells)"],"titlePadding":0,"titleLineHeight":14}},"y2":{"field":"hi"}}},
   {"data":{"name":"box"},"transform":[{"filter":"datum.p=='D'"},{"fold":["lo","hi"],"as":["k","cv"]}],"mark":{"type":"tick","orient":"horizontal","size":7,"thickness":1,"color":"#555"},"encoding":{"x":{"field":"x","type":"quantitative"},"y":{"field":"cv","type":"quantitative"}}},
   {"data":{"name":"box"},"transform":[{"filter":"datum.p=='D'"}],"mark":{"type":"bar","width":15},"encoding":{"x":{"field":"x","type":"quantitative"},"y":{"field":"q1","type":"quantitative"},"y2":{"field":"q3"},
     "fill":{"field":"g","type":"nominal","scale":{"domain":["BL","Fat","HAc","HChr","HNx","CBL","CAc","CChr","CNx"],"range":["#000000","#fffa98","#f7a39e","#dc8ef6","#eaa86a","#000000","#c8dcf3","#4c96ec","#7487f0"]},"legend":null},
     "stroke":{"value":"#555"},"strokeWidth":{"value":1}}},
   {"data":{"name":"box"},"transform":[{"filter":"datum.p=='D'"}],"mark":{"type":"tick","orient":"horizontal","size":15,"thickness":1.2,"color":"#222"},"encoding":{"x":{"field":"x","type":"quantitative"},"y":{"field":"med","type":"quantitative"}}},
   {"data":{"name":"pts"},"transform":[{"filter":"datum.p=='D'"}],"mark":{"type":"point","filled":true,"size":36,"opacity":1},"encoding":{"x":{"field":"x","type":"quantitative"},"y":{"field":"v","type":"quantitative"},
     "color":{"field":"g","type":"nominal","scale":{"domain":["BL","Fat","HAc","HChr","HNx","CBL","CAc","CChr","CNx"],"range":["#000000","#f47b20","#ef4a45","#a22ad8","#c46a18","#000000","#14966a","#177d98","#1d3cf0"]},"legend":null},
     "shape":{"field":"g","type":"nominal","scale":{"domain":["BL","Fat","HAc","HChr","HNx","CBL","CAc","CChr","CNx"],"range":["circle","diamond","circle","circle","circle","square","square","square","square"]},"legend":null}}},
   {"data":{"name":"sig"},"transform":[{"filter":"datum.p=='D'"}],"mark":{"type":"rule","color":"#555","strokeWidth":1},"encoding":{"x":{"field":"x1","type":"quantitative"},"x2":{"field":"x2"},"y":{"field":"y","type":"quantitative"}}},
   {"data":{"name":"sig"},"transform":[{"filter":"datum.p=='D'"}],"mark":{"type":"text","fontSize":9.5,"baseline":"bottom","dy":0},"encoding":{"x":{"field":"xm","type":"quantitative"},"y":{"field":"y","type":"quantitative"},"text":{"field":"t"},"color":{"condition":{"test":"datum.s==1","value":"#e8322b"},"value":"#222"}}},
   {"data":{"name":"brk"},"transform":[{"filter":"datum.p=='D'"}],"mark":{"type":"rule","color":"#333","strokeWidth":1.2},"encoding":{"x":{"field":"x1","type":"quantitative"},"x2":{"field":"x2"},"y":{"field":"yl","type":"quantitative"}}},
   {"data":{"name":"brk"},"transform":[{"filter":"datum.p=='D'"},{"fold":["x1","x2"],"as":["k","bx"]}],"mark":{"type":"rule","color":"#333","strokeWidth":1.2},"encoding":{"x":{"field":"bx","type":"quantitative"},"y":{"field":"yl","type":"quantitative"},"y2":{"field":"yt"}}},
   {"data":{"name":"ann"},"transform":[{"filter":"datum.p=='D' && datum.k!='L'"}],"mark":{"type":"text","align":"center","baseline":"middle"},"encoding":{"x":{"field":"x","type":"quantitative"},"y":{"field":"y","type":"quantitative"},"text":{"field":"t"},
     "size":{"condition":[{"test":"datum.k=='T'","value":13},{"test":"datum.k=='S'","value":11},{"test":"datum.k=='G'","value":11.5},{"test":"datum.k=='N'","value":8.5}],"value":10.5},
     "color":{"condition":{"test":"datum.k=='T'||datum.k=='S'","value":"#2f8f2f"},"value":"#111"}}},
   {"data":{"name":"ann"},"transform":[{"filter":"datum.p=='D' && datum.k=='L'"}],"mark":{"type":"text","align":"center","baseline":"middle","fontSize":18,"fontWeight":"bold","color":"#000"},"encoding":{"x":{"field":"x","type":"quantitative"},"y":{"field":"y","type":"quantitative"},"text":{"field":"t"}}},
   {"data":{"values":[{}]},"mark":{"type":"rule","color":"#333","strokeWidth":1.5},"encoding":{"x":{"datum":-0.8},"y":{"datum":100},"y2":{"datum":1e8}}}
  ]}
 ]},
 {"spacing": 24, "hconcat": [
  {"width": 177, "height": 119, "layer": [
   {"data":{"name":"box"},"transform":[{"filter":"datum.p=='E'"}],"mark":{"type":"rule","color":"#555","strokeWidth":1},
    "encoding":{"x":{"field":"x","type":"quantitative","scale":{"domain":[-0.63,8.63],"nice":false,"zero":false},"axis":{"values":[0,1,2,3,4,5,6,7,8],"tickCount":9,"labelExpr":"['BL','Fat','Ac','Chr','Nx','BL','Ac','Chr','Nx'][datum.value]","title":null,"labelOverlap":false,"labelFlush":false}},
     "y":{"field":"lo","type":"quantitative","scale":{"domain":[0,200],"nice":false,"zero":false},"axis":{"values":[0,50,100,150,200],"title":"Peripheral CD4⁺ Index","titlePadding":0}},"y2":{"field":"hi"}}},
   {"data":{"name":"box"},"transform":[{"filter":"datum.p=='E'"},{"fold":["lo","hi"],"as":["k","cv"]}],"mark":{"type":"tick","orient":"horizontal","size":7,"thickness":1,"color":"#555"},"encoding":{"x":{"field":"x","type":"quantitative"},"y":{"field":"cv","type":"quantitative"}}},
   {"data":{"name":"box"},"transform":[{"filter":"datum.p=='E'"}],"mark":{"type":"bar","width":13},"encoding":{"x":{"field":"x","type":"quantitative"},"y":{"field":"q1","type":"quantitative"},"y2":{"field":"q3"},
     "fill":{"field":"g","type":"nominal","scale":{"domain":["BL","Fat","HAc","HChr","HNx","CBL","CAc","CChr","CNx"],"range":["#000000","#fffa98","#f7a39e","#dc8ef6","#eaa86a","#000000","#c8dcf3","#4c96ec","#7487f0"]},"legend":null},
     "stroke":{"condition":{"test":"datum.g=='BL'||datum.g=='CBL'","value":"#000"},"value":"#555"},"strokeWidth":{"condition":{"test":"datum.g=='BL'||datum.g=='CBL'","value":5},"value":1}}},
   {"data":{"name":"box"},"transform":[{"filter":"datum.p=='E'"}],"mark":{"type":"tick","orient":"horizontal","size":13,"thickness":1.2,"color":"#222"},"encoding":{"x":{"field":"x","type":"quantitative"},"y":{"field":"med","type":"quantitative"}}},
   {"data":{"name":"pts"},"transform":[{"filter":"datum.p=='E'"}],"mark":{"type":"point","filled":true,"size":36,"opacity":1},"encoding":{"x":{"field":"x","type":"quantitative"},"y":{"field":"v","type":"quantitative"},
     "color":{"field":"g","type":"nominal","scale":{"domain":["BL","Fat","HAc","HChr","HNx","CBL","CAc","CChr","CNx"],"range":["#000000","#f47b20","#ef4a45","#a22ad8","#c46a18","#000000","#14966a","#177d98","#1d3cf0"]},"legend":null},
     "shape":{"field":"g","type":"nominal","scale":{"domain":["BL","Fat","HAc","HChr","HNx","CBL","CAc","CChr","CNx"],"range":["circle","circle","circle","circle","circle","square","circle","square","square"]},"legend":null}}},
   {"data":{"name":"sig"},"transform":[{"filter":"datum.p=='E'"}],"mark":{"type":"rule","color":"#555","strokeWidth":1},"encoding":{"x":{"field":"x1","type":"quantitative"},"x2":{"field":"x2"},"y":{"field":"y","type":"quantitative"}}},
   {"data":{"name":"sig"},"transform":[{"filter":"datum.p=='E'"}],"mark":{"type":"text","fontSize":9.5,"baseline":"bottom","dy":0},"encoding":{"x":{"field":"xm","type":"quantitative"},"y":{"field":"y","type":"quantitative"},"text":{"field":"t"},"color":{"condition":{"test":"datum.s==1","value":"#e8322b"},"value":"#222"}}},
   {"data":{"name":"brk"},"transform":[{"filter":"datum.p=='E'"}],"mark":{"type":"rule","color":"#333","strokeWidth":1.2},"encoding":{"x":{"field":"x1","type":"quantitative"},"x2":{"field":"x2"},"y":{"field":"yl","type":"quantitative"}}},
   {"data":{"name":"brk"},"transform":[{"filter":"datum.p=='E'"},{"fold":["x1","x2"],"as":["k","bx"]}],"mark":{"type":"rule","color":"#333","strokeWidth":1.2},"encoding":{"x":{"field":"bx","type":"quantitative"},"y":{"field":"yl","type":"quantitative"},"y2":{"field":"yt"}}},
   {"data":{"name":"ann"},"transform":[{"filter":"datum.p=='E' && datum.k!='L'"}],"mark":{"type":"text","align":"center","baseline":"middle"},"encoding":{"x":{"field":"x","type":"quantitative"},"y":{"field":"y","type":"quantitative"},"text":{"field":"t"},
     "size":{"condition":[{"test":"datum.k=='T'","value":13},{"test":"datum.k=='S'","value":11},{"test":"datum.k=='G'","value":11.5},{"test":"datum.k=='N'","value":8.5}],"value":10.5},
     "color":{"condition":{"test":"datum.k=='T'||datum.k=='S'","value":"#2f8f2f"},"value":"#111"}}},
   {"data":{"name":"ann"},"transform":[{"filter":"datum.p=='E' && datum.k=='L'"}],"mark":{"type":"text","align":"center","baseline":"middle","fontSize":18,"fontWeight":"bold","color":"#000"},"encoding":{"x":{"field":"x","type":"quantitative"},"y":{"field":"y","type":"quantitative"},"text":{"field":"t"}}}
  ]},
  {"width": 105, "height": 119, "layer": [
   {"data":{"name":"box"},"transform":[{"filter":"datum.p=='F'"}],"mark":{"type":"rule","color":"#555","strokeWidth":1},
    "encoding":{"x":{"field":"x","type":"quantitative","scale":{"domain":[-0.58,3.46],"nice":false,"zero":false},"axis":{"values":[0,1,2,3],"tickCount":4,"labelExpr":"['Ac','Chr','Ac','Chr'][datum.value]","title":null,"labelOverlap":false,"labelFlush":false}},
     "y":{"field":"lo","type":"quantitative","scale":{"type":"log","domain":[1e4,2.08e10],"nice":false},"axis":{"domain":false,"labelOverlap":false,"values":[1e4,2e4,3e4,4e4,5e4,6e4,7e4,8e4,9e4,1e5,2e5,3e5,4e5,5e5,6e5,7e5,8e5,9e5,1e6,2e6,3e6,4e6,5e6,6e6,7e6,8e6,9e6,1e7,2e7,3e7,4e7,5e7,6e7,7e7,8e7,9e7,1e8,2e8,3e8,4e8,5e8,6e8,7e8,8e8,9e8,1e9,2e9,3e9,4e9,5e9,6e9,7e9,8e9,9e9,1e10],"labelExpr":"abs(log(datum.value)/LN10-round(log(datum.value)/LN10))<0.001 ? '10'+['⁰','¹','²','³','⁴','⁵','⁶','⁷','⁸','⁹','¹⁰'][round(log(datum.value)/LN10)] : ''","tickSize":{"condition":{"test":"abs(log(datum.value)/LN10-round(log(datum.value)/LN10))<0.001","value":4},"value":2},"title":"vRNA copies/mL"}},"y2":{"field":"hi"}}},
   {"data":{"name":"box"},"transform":[{"filter":"datum.p=='F'"},{"fold":["lo","hi"],"as":["k","cv"]}],"mark":{"type":"tick","orient":"horizontal","size":7,"thickness":1,"color":"#555"},"encoding":{"x":{"field":"x","type":"quantitative"},"y":{"field":"cv","type":"quantitative"}}},
   {"data":{"name":"box"},"transform":[{"filter":"datum.p=='F'"}],"mark":{"type":"bar","width":17},"encoding":{"x":{"field":"x","type":"quantitative"},"y":{"field":"q1","type":"quantitative"},"y2":{"field":"q3"},
     "fill":{"field":"g","type":"nominal","scale":{"domain":["BL","Fat","HAc","HChr","HNx","CBL","CAc","CChr","CNx"],"range":["#000000","#fffa98","#f7a39e","#dc8ef6","#eaa86a","#000000","#c8dcf3","#4c96ec","#7487f0"]},"legend":null},
     "stroke":{"value":"#555"},"strokeWidth":{"value":1}}},
   {"data":{"name":"box"},"transform":[{"filter":"datum.p=='F'"}],"mark":{"type":"tick","orient":"horizontal","size":17,"thickness":1.2,"color":"#222"},"encoding":{"x":{"field":"x","type":"quantitative"},"y":{"field":"med","type":"quantitative"}}},
   {"data":{"name":"pts"},"transform":[{"filter":"datum.p=='F'"}],"mark":{"type":"point","filled":true,"size":36,"opacity":1},"encoding":{"x":{"field":"x","type":"quantitative"},"y":{"field":"v","type":"quantitative"},
     "color":{"field":"g","type":"nominal","scale":{"domain":["BL","Fat","HAc","HChr","HNx","CBL","CAc","CChr","CNx"],"range":["#000000","#f47b20","#ef4a45","#a22ad8","#c46a18","#000000","#14966a","#177d98","#1d3cf0"]},"legend":null},
     "shape":{"field":"g","type":"nominal","scale":{"domain":["BL","Fat","HAc","HChr","HNx","CBL","CAc","CChr","CNx"],"range":["circle","diamond","circle","circle","circle","square","square","square","square"]},"legend":null}}},
   {"data":{"name":"sig"},"transform":[{"filter":"datum.p=='F'"}],"mark":{"type":"rule","color":"#555","strokeWidth":1},"encoding":{"x":{"field":"x1","type":"quantitative"},"x2":{"field":"x2"},"y":{"field":"y","type":"quantitative"}}},
   {"data":{"name":"sig"},"transform":[{"filter":"datum.p=='F'"}],"mark":{"type":"text","fontSize":9.5,"baseline":"bottom","dy":0},"encoding":{"x":{"field":"xm","type":"quantitative"},"y":{"field":"y","type":"quantitative"},"text":{"field":"t"},"color":{"condition":{"test":"datum.s==1","value":"#e8322b"},"value":"#222"}}},
   {"data":{"name":"brk"},"transform":[{"filter":"datum.p=='F'"}],"mark":{"type":"rule","color":"#333","strokeWidth":1.2},"encoding":{"x":{"field":"x1","type":"quantitative"},"x2":{"field":"x2"},"y":{"field":"yl","type":"quantitative"}}},
   {"data":{"name":"brk"},"transform":[{"filter":"datum.p=='F'"},{"fold":["x1","x2"],"as":["k","bx"]}],"mark":{"type":"rule","color":"#333","strokeWidth":1.2},"encoding":{"x":{"field":"bx","type":"quantitative"},"y":{"field":"yl","type":"quantitative"},"y2":{"field":"yt"}}},
   {"data":{"name":"ann"},"transform":[{"filter":"datum.p=='F' && datum.k!='L'"}],"mark":{"type":"text","align":"center","baseline":"middle"},"encoding":{"x":{"field":"x","type":"quantitative"},"y":{"field":"y","type":"quantitative"},"text":{"field":"t"},
     "size":{"condition":[{"test":"datum.k=='T'","value":13},{"test":"datum.k=='S'","value":11},{"test":"datum.k=='G'","value":11.5},{"test":"datum.k=='N'","value":8.5}],"value":10.5},
     "color":{"condition":{"test":"datum.k=='T'||datum.k=='S'","value":"#2f8f2f"},"value":"#111"}}},
   {"data":{"name":"ann"},"transform":[{"filter":"datum.p=='F' && datum.k=='L'"}],"mark":{"type":"text","align":"center","baseline":"middle","fontSize":18,"fontWeight":"bold","color":"#000"},"encoding":{"x":{"field":"x","type":"quantitative"},"y":{"field":"y","type":"quantitative"},"text":{"field":"t"}}},
   {"data":{"values":[{}]},"mark":{"type":"rule","color":"#333","strokeWidth":1.5},"encoding":{"x":{"datum":-0.58},"y":{"datum":10000},"y2":{"datum":1e10}}}
  ]},
  {"width": 107, "height": 119, "layer": [
   {"data":{"name":"box"},"transform":[{"filter":"datum.p=='G'"}],"mark":{"type":"rule","color":"#555","strokeWidth":1},
    "encoding":{"x":{"field":"x","type":"quantitative","scale":{"domain":[-0.67,3.55],"nice":false,"zero":false},"axis":{"values":[0,1,2,3],"tickCount":4,"labelExpr":"['Ac','Chr','Ac','Chr'][datum.value]","title":null,"labelOverlap":false,"labelFlush":false}},
     "y":{"field":"lo","type":"quantitative","scale":{"type":"log","domain":[1000,1.44e6],"nice":false},"axis":{"domain":false,"labelOverlap":false,"values":[1000,2000,3000,4000,5000,6000,7000,8000,9000,1e4,2e4,3e4,4e4,5e4,6e4,7e4,8e4,9e4,1e5,2e5,3e5,4e5,5e5,6e5,7e5,8e5,9e5,1e6],"labelExpr":"abs(log(datum.value)/LN10-round(log(datum.value)/LN10))<0.001 ? '10'+['⁰','¹','²','³','⁴','⁵','⁶','⁷','⁸','⁹','¹⁰'][round(log(datum.value)/LN10)] : ''","tickSize":{"condition":{"test":"abs(log(datum.value)/LN10-round(log(datum.value)/LN10))<0.001","value":4},"value":2},"title":["Cell-associated vDNA","(copies/10⁶ cells)"],"titlePadding":0,"titleLineHeight":14}},"y2":{"field":"hi"}}},
   {"data":{"name":"box"},"transform":[{"filter":"datum.p=='G'"},{"fold":["lo","hi"],"as":["k","cv"]}],"mark":{"type":"tick","orient":"horizontal","size":7,"thickness":1,"color":"#555"},"encoding":{"x":{"field":"x","type":"quantitative"},"y":{"field":"cv","type":"quantitative"}}},
   {"data":{"name":"box"},"transform":[{"filter":"datum.p=='G'"}],"mark":{"type":"bar","width":17},"encoding":{"x":{"field":"x","type":"quantitative"},"y":{"field":"q1","type":"quantitative"},"y2":{"field":"q3"},
     "fill":{"field":"g","type":"nominal","scale":{"domain":["BL","Fat","HAc","HChr","HNx","CBL","CAc","CChr","CNx"],"range":["#000000","#fffa98","#f7a39e","#dc8ef6","#eaa86a","#000000","#c8dcf3","#4c96ec","#7487f0"]},"legend":null},
     "stroke":{"value":"#555"},"strokeWidth":{"value":1}}},
   {"data":{"name":"box"},"transform":[{"filter":"datum.p=='G'"}],"mark":{"type":"tick","orient":"horizontal","size":17,"thickness":1.2,"color":"#222"},"encoding":{"x":{"field":"x","type":"quantitative"},"y":{"field":"med","type":"quantitative"}}},
   {"data":{"name":"pts"},"transform":[{"filter":"datum.p=='G'"}],"mark":{"type":"point","filled":true,"size":36,"opacity":1},"encoding":{"x":{"field":"x","type":"quantitative"},"y":{"field":"v","type":"quantitative"},
     "color":{"field":"g","type":"nominal","scale":{"domain":["BL","Fat","HAc","HChr","HNx","CBL","CAc","CChr","CNx"],"range":["#000000","#f47b20","#ef4a45","#a22ad8","#c46a18","#000000","#14966a","#177d98","#1d3cf0"]},"legend":null},
     "shape":{"field":"g","type":"nominal","scale":{"domain":["BL","Fat","HAc","HChr","HNx","CBL","CAc","CChr","CNx"],"range":["circle","diamond","circle","circle","circle","square","square","square","square"]},"legend":null}}},
   {"data":{"name":"sig"},"transform":[{"filter":"datum.p=='G'"}],"mark":{"type":"rule","color":"#555","strokeWidth":1},"encoding":{"x":{"field":"x1","type":"quantitative"},"x2":{"field":"x2"},"y":{"field":"y","type":"quantitative"}}},
   {"data":{"name":"sig"},"transform":[{"filter":"datum.p=='G'"}],"mark":{"type":"text","fontSize":9.5,"baseline":"bottom","dy":0},"encoding":{"x":{"field":"xm","type":"quantitative"},"y":{"field":"y","type":"quantitative"},"text":{"field":"t"},"color":{"condition":{"test":"datum.s==1","value":"#e8322b"},"value":"#222"}}},
   {"data":{"name":"brk"},"transform":[{"filter":"datum.p=='G'"}],"mark":{"type":"rule","color":"#333","strokeWidth":1.2},"encoding":{"x":{"field":"x1","type":"quantitative"},"x2":{"field":"x2"},"y":{"field":"yl","type":"quantitative"}}},
   {"data":{"name":"brk"},"transform":[{"filter":"datum.p=='G'"},{"fold":["x1","x2"],"as":["k","bx"]}],"mark":{"type":"rule","color":"#333","strokeWidth":1.2},"encoding":{"x":{"field":"bx","type":"quantitative"},"y":{"field":"yl","type":"quantitative"},"y2":{"field":"yt"}}},
   {"data":{"name":"ann"},"transform":[{"filter":"datum.p=='G' && datum.k!='L'"}],"mark":{"type":"text","align":"center","baseline":"middle"},"encoding":{"x":{"field":"x","type":"quantitative"},"y":{"field":"y","type":"quantitative"},"text":{"field":"t"},
     "size":{"condition":[{"test":"datum.k=='T'","value":13},{"test":"datum.k=='S'","value":11},{"test":"datum.k=='G'","value":11.5},{"test":"datum.k=='N'","value":8.5}],"value":10.5},
     "color":{"condition":{"test":"datum.k=='T'||datum.k=='S'","value":"#2f8f2f"},"value":"#111"}}},
   {"data":{"name":"ann"},"transform":[{"filter":"datum.p=='G' && datum.k=='L'"}],"mark":{"type":"text","align":"center","baseline":"middle","fontSize":18,"fontWeight":"bold","color":"#000"},"encoding":{"x":{"field":"x","type":"quantitative"},"y":{"field":"y","type":"quantitative"},"text":{"field":"t"}}},
   {"data":{"values":[{}]},"mark":{"type":"rule","color":"#333","strokeWidth":1.5},"encoding":{"x":{"datum":-0.67},"y":{"datum":1000},"y2":{"datum":1e6}}}
  ]},
  {"width": 107, "height": 119, "layer": [
   {"data":{"name":"box"},"transform":[{"filter":"datum.p=='H'"}],"mark":{"type":"rule","color":"#555","strokeWidth":1},
    "encoding":{"x":{"field":"x","type":"quantitative","scale":{"domain":[-0.73,3.4],"nice":false,"zero":false},"axis":{"values":[0,1,2,3],"tickCount":4,"labelExpr":"['Ac','Chr','Ac','Chr'][datum.value]","title":null,"labelOverlap":false,"labelFlush":false}},
     "y":{"field":"lo","type":"quantitative","scale":{"type":"log","domain":[1000,1.65e8],"nice":false},"axis":{"domain":false,"labelOverlap":false,"values":[1000,2000,3000,4000,5000,6000,7000,8000,9000,1e4,2e4,3e4,4e4,5e4,6e4,7e4,8e4,9e4,1e5,2e5,3e5,4e5,5e5,6e5,7e5,8e5,9e5,1e6,2e6,3e6,4e6,5e6,6e6,7e6,8e6,9e6,1e7,2e7,3e7,4e7,5e7,6e7,7e7,8e7,9e7,1e8],"labelExpr":"abs(log(datum.value)/LN10-round(log(datum.value)/LN10))<0.001 ? '10'+['⁰','¹','²','³','⁴','⁵','⁶','⁷','⁸','⁹','¹⁰'][round(log(datum.value)/LN10)] : ''","tickSize":{"condition":{"test":"abs(log(datum.value)/LN10-round(log(datum.value)/LN10))<0.001","value":4},"value":2},"title":["Cell-associated vDNA","(copies/10⁶ cells)"],"titlePadding":0,"titleLineHeight":14}},"y2":{"field":"hi"}}},
   {"data":{"name":"box"},"transform":[{"filter":"datum.p=='H'"},{"fold":["lo","hi"],"as":["k","cv"]}],"mark":{"type":"tick","orient":"horizontal","size":7,"thickness":1,"color":"#555"},"encoding":{"x":{"field":"x","type":"quantitative"},"y":{"field":"cv","type":"quantitative"}}},
   {"data":{"name":"box"},"transform":[{"filter":"datum.p=='H'"}],"mark":{"type":"bar","width":17},"encoding":{"x":{"field":"x","type":"quantitative"},"y":{"field":"q1","type":"quantitative"},"y2":{"field":"q3"},
     "fill":{"field":"g","type":"nominal","scale":{"domain":["BL","Fat","HAc","HChr","HNx","CBL","CAc","CChr","CNx"],"range":["#000000","#fffa98","#f7a39e","#dc8ef6","#eaa86a","#000000","#c8dcf3","#4c96ec","#7487f0"]},"legend":null},
     "stroke":{"value":"#555"},"strokeWidth":{"value":1}}},
   {"data":{"name":"box"},"transform":[{"filter":"datum.p=='H'"}],"mark":{"type":"tick","orient":"horizontal","size":17,"thickness":1.2,"color":"#222"},"encoding":{"x":{"field":"x","type":"quantitative"},"y":{"field":"med","type":"quantitative"}}},
   {"data":{"name":"pts"},"transform":[{"filter":"datum.p=='H'"}],"mark":{"type":"point","filled":true,"size":36,"opacity":1},"encoding":{"x":{"field":"x","type":"quantitative"},"y":{"field":"v","type":"quantitative"},
     "color":{"field":"g","type":"nominal","scale":{"domain":["BL","Fat","HAc","HChr","HNx","CBL","CAc","CChr","CNx"],"range":["#000000","#f47b20","#ef4a45","#a22ad8","#c46a18","#000000","#14966a","#177d98","#1d3cf0"]},"legend":null},
     "shape":{"field":"g","type":"nominal","scale":{"domain":["BL","Fat","HAc","HChr","HNx","CBL","CAc","CChr","CNx"],"range":["circle","diamond","circle","circle","circle","square","square","square","square"]},"legend":null}}},
   {"data":{"name":"sig"},"transform":[{"filter":"datum.p=='H'"}],"mark":{"type":"rule","color":"#555","strokeWidth":1},"encoding":{"x":{"field":"x1","type":"quantitative"},"x2":{"field":"x2"},"y":{"field":"y","type":"quantitative"}}},
   {"data":{"name":"sig"},"transform":[{"filter":"datum.p=='H'"}],"mark":{"type":"text","fontSize":9.5,"baseline":"bottom","dy":0},"encoding":{"x":{"field":"xm","type":"quantitative"},"y":{"field":"y","type":"quantitative"},"text":{"field":"t"},"color":{"condition":{"test":"datum.s==1","value":"#e8322b"},"value":"#222"}}},
   {"data":{"name":"brk"},"transform":[{"filter":"datum.p=='H'"}],"mark":{"type":"rule","color":"#333","strokeWidth":1.2},"encoding":{"x":{"field":"x1","type":"quantitative"},"x2":{"field":"x2"},"y":{"field":"yl","type":"quantitative"}}},
   {"data":{"name":"brk"},"transform":[{"filter":"datum.p=='H'"},{"fold":["x1","x2"],"as":["k","bx"]}],"mark":{"type":"rule","color":"#333","strokeWidth":1.2},"encoding":{"x":{"field":"bx","type":"quantitative"},"y":{"field":"yl","type":"quantitative"},"y2":{"field":"yt"}}},
   {"data":{"name":"ann"},"transform":[{"filter":"datum.p=='H' && datum.k!='L'"}],"mark":{"type":"text","align":"center","baseline":"middle"},"encoding":{"x":{"field":"x","type":"quantitative"},"y":{"field":"y","type":"quantitative"},"text":{"field":"t"},
     "size":{"condition":[{"test":"datum.k=='T'","value":13},{"test":"datum.k=='S'","value":11},{"test":"datum.k=='G'","value":11.5},{"test":"datum.k=='N'","value":8.5}],"value":10.5},
     "color":{"condition":{"test":"datum.k=='T'||datum.k=='S'","value":"#2f8f2f"},"value":"#111"}}},
   {"data":{"name":"ann"},"transform":[{"filter":"datum.p=='H' && datum.k=='L'"}],"mark":{"type":"text","align":"center","baseline":"middle","fontSize":18,"fontWeight":"bold","color":"#000"},"encoding":{"x":{"field":"x","type":"quantitative"},"y":{"field":"y","type":"quantitative"},"text":{"field":"t"}}},
   {"data":{"values":[{}]},"mark":{"type":"rule","color":"#333","strokeWidth":1.5},"encoding":{"x":{"datum":-0.73},"y":{"datum":1000},"y2":{"datum":1e8}}}
  ]}
 ]}
 ]},
 {"spacing": 36, "resolve": {"scale": {"color": "independent", "strokeDash": "independent"}, "legend": {"color": "independent", "strokeDash": "independent"}},
  "hconcat": [
  {"width": 153, "height": 128, "layer": [
   {"data":{"name":"surv"},"transform":[{"filter":"datum.p=='I'"}],"mark":{"type":"line","interpolate":"step-after"},
    "encoding":{"x":{"field":"d","type":"quantitative","scale":{"domain":[0,400],"nice":false,"zero":false},"axis":{"values":[0,100,200,300,400],"title":"Day post infection","domainColor":"#777","domainWidth":2,"tickColor":"#777","tickWidth":1.5,"labelFontSize":10.5,"titlePadding":3}},
     "y":{"field":"s","type":"quantitative","scale":{"domain":[0,100],"nice":false},"axis":{"values":[0,20,40,60,80,100],"title":"Percent survival","domainColor":"#777","domainWidth":2,"tickColor":"#777","tickWidth":1.5,"labelFontSize":10.5}},
     "color":{"field":"grp","type":"nominal","scale":{"domain":["HFD (n = 5)","Controls (n = 10)"],"range":["#f47b20","#2d7d2d"]},"legend":{"orient":"none","legendX":-30,"legendY":160,"direction":"horizontal","title":null,"symbolType":"stroke","symbolStrokeWidth":1.8,"symbolSize":220,"labelFontSize":9.5,"columnPadding":16,"padding":0}},
     "strokeDash":{"field":"grp","type":"nominal","scale":{"domain":["HFD (n = 5)","Controls (n = 10)"],"range":[[5,3],[1,0]]},"legend":{"orient":"none","legendX":-30,"legendY":160,"direction":"horizontal","title":null,"symbolType":"stroke","symbolStrokeWidth":1.8,"symbolSize":220,"labelFontSize":9.5,"columnPadding":16,"padding":0}},
     "strokeWidth":{"condition":{"test":"indexof(datum.grp,'HFD')==0","value":2.2},"value":1.3}}},
   {"data":{"name":"ann"},"transform":[{"filter":"datum.p=='I' && datum.k!='L'"}],"mark":{"type":"text","align":"center","baseline":"middle"},"encoding":{"x":{"field":"x","type":"quantitative"},"y":{"field":"y","type":"quantitative"},"text":{"field":"t"},
     "size":{"condition":[{"test":"datum.k=='T'","value":13},{"test":"datum.k=='S'","value":11},{"test":"datum.k=='G'","value":11.5},{"test":"datum.k=='N'","value":8.5}],"value":10.5},
     "color":{"condition":{"test":"datum.k=='T'||datum.k=='S'","value":"#2f8f2f"},"value":"#111"}}},
   {"data":{"name":"ann"},"transform":[{"filter":"datum.p=='I' && datum.k=='L'"}],"mark":{"type":"text","align":"center","baseline":"middle","fontSize":18,"fontWeight":"bold","color":"#000"},"encoding":{"x":{"field":"x","type":"quantitative"},"y":{"field":"y","type":"quantitative"},"text":{"field":"t"}}}
  ]},
  {"width": 151, "height": 128, "layer": [
   {"data":{"name":"surv"},"transform":[{"filter":"datum.p=='J'"}],"mark":{"type":"line","interpolate":"step-after"},
    "encoding":{"x":{"field":"d","type":"quantitative","scale":{"domain":[0,400],"nice":false,"zero":false},"axis":{"values":[0,100,200,300,400],"title":"Day post infection","domainColor":"#777","domainWidth":2,"tickColor":"#777","tickWidth":1.5,"labelFontSize":10.5,"titlePadding":3}},
     "y":{"field":"s","type":"quantitative","scale":{"domain":[0,100],"nice":false},"axis":{"values":[0,20,40,60,80,100],"title":"Percent survival","domainColor":"#777","domainWidth":2,"tickColor":"#777","tickWidth":1.5,"labelFontSize":10.5}},
     "color":{"field":"grp","type":"nominal","scale":{"domain":["HFD (n = 4)","Controls (n = 9)"],"range":["#e02424","#2a2aa0"]},"legend":{"orient":"none","legendX":-20,"legendY":160,"direction":"horizontal","title":null,"symbolType":"stroke","symbolStrokeWidth":1.8,"symbolSize":220,"labelFontSize":9.5,"columnPadding":16,"padding":0}},
     "strokeDash":{"field":"grp","type":"nominal","scale":{"domain":["HFD (n = 4)","Controls (n = 9)"],"range":[[4,3],[1,0]]},"legend":{"orient":"none","legendX":-20,"legendY":160,"direction":"horizontal","title":null,"symbolType":"stroke","symbolStrokeWidth":1.8,"symbolSize":220,"labelFontSize":9.5,"columnPadding":16,"padding":0}},
     "strokeWidth":{"condition":{"test":"indexof(datum.grp,'HFD')==0","value":2},"value":1.2}}},
   {"data":{"name":"ann"},"transform":[{"filter":"datum.p=='J' && datum.k!='L'"}],"mark":{"type":"text","align":"center","baseline":"middle"},"encoding":{"x":{"field":"x","type":"quantitative"},"y":{"field":"y","type":"quantitative"},"text":{"field":"t"},
     "size":{"condition":[{"test":"datum.k=='T'","value":13},{"test":"datum.k=='S'","value":11},{"test":"datum.k=='G'","value":11.5},{"test":"datum.k=='N'","value":8.5}],"value":10.5},
     "color":{"condition":{"test":"datum.k=='T'||datum.k=='S'","value":"#2f8f2f"},"value":"#111"}}},
   {"data":{"name":"ann"},"transform":[{"filter":"datum.p=='J' && datum.k=='L'"}],"mark":{"type":"text","align":"center","baseline":"middle","fontSize":18,"fontWeight":"bold","color":"#000"},"encoding":{"x":{"field":"x","type":"quantitative"},"y":{"field":"y","type":"quantitative"},"text":{"field":"t"}}}
  ]}
 ]}
]
}
